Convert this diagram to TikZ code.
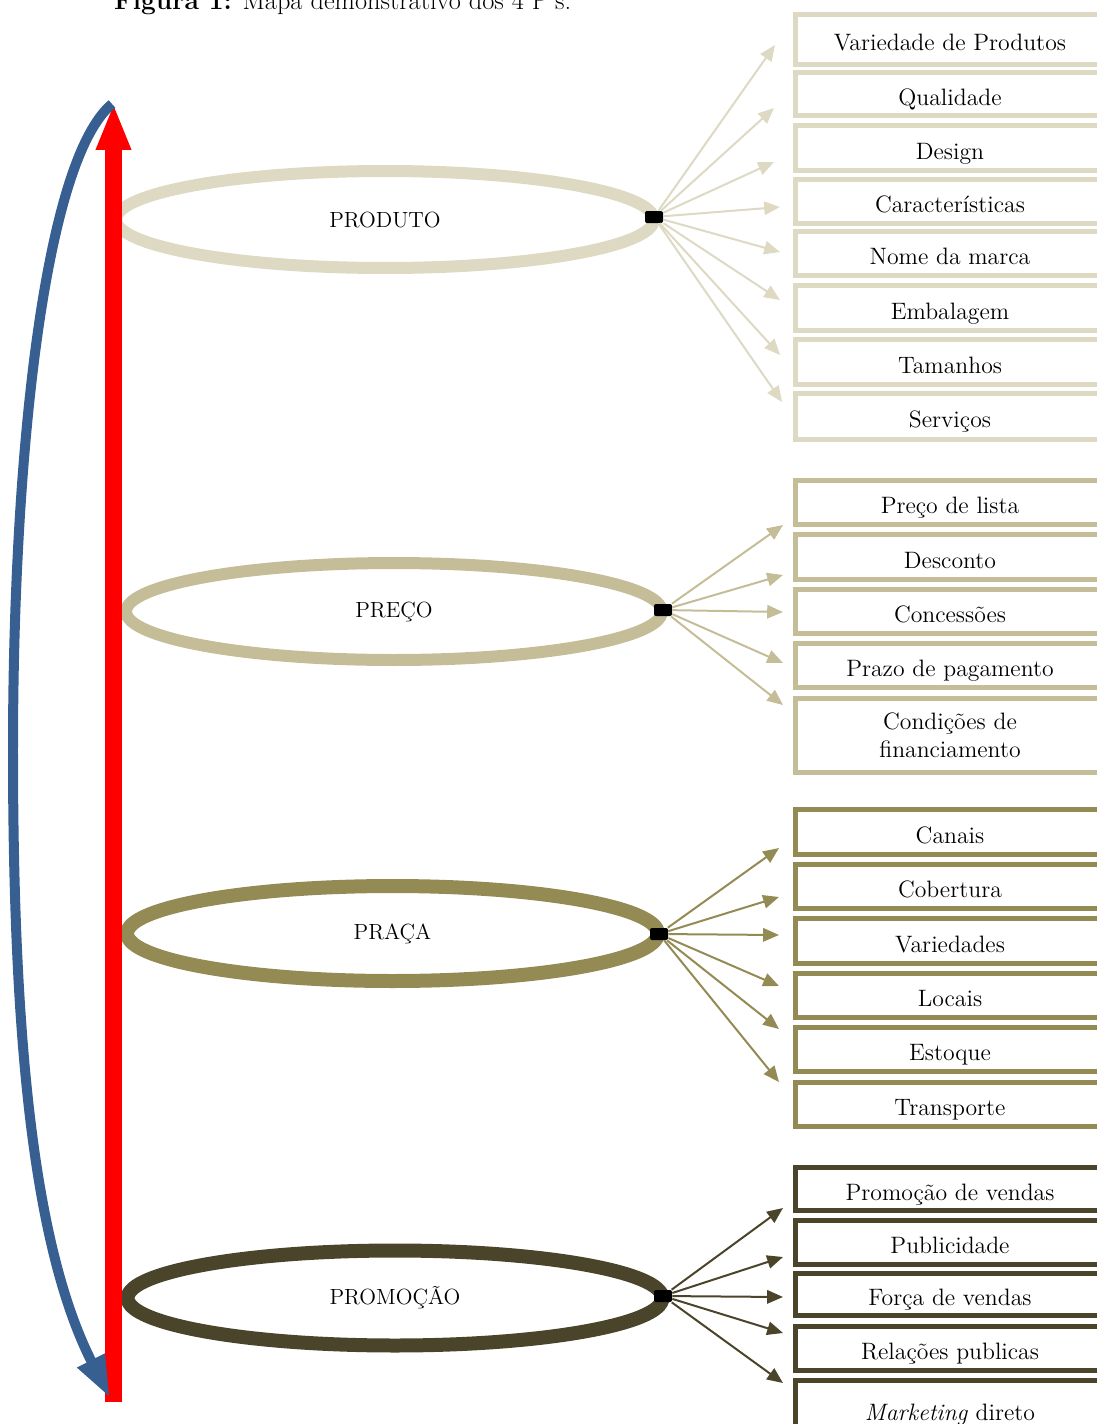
\documentclass[tikz,border=0pt]{standalone}
\usepackage{tikz}
\usetikzlibrary{shapes.geometric, arrows.meta, positioning}
\definecolor{prodc}{HTML}{DDD9C3}
\definecolor{precoc}{HTML}{C4BD97}
\definecolor{pracac}{HTML}{948A54}
\definecolor{promoc}{HTML}{4A452A}
\definecolor{curvec}{HTML}{375F92}
\begin{document}
\begin{tikzpicture}[x=0.02cm, y=-0.02cm,
    ring/.style={ellipse, draw=#1, line width=0.24cm, font=\fontsize{12.5}{14}\selectfont},
    handle/.style={fill=black, rounded corners=0.04cm, minimum width=0.36cm, minimum height=0.24cm, inner sep=0pt},
    itembox/.style={draw=#1, line width=0.1cm, minimum width=6.2cm, inner sep=0pt, font=\fontsize{13.5}{16}\selectfont},
    oneline/.style={text height=13pt, text depth=0pt},
    twoline/.style={align=center},
    link/.style={draw=#1, line width=0.04cm, -{Triangle[length=9pt, width=7.6pt]}},
    redarrow/.style={draw=red, line width=0.34cm, -{Triangle[length=26.7pt, width=18.2pt]}},
    backarrow/.style={draw=curvec, line width=0.2cm, -{Triangle[length=24pt, width=16pt]}}]
    \useasboundingbox (0,0) rectangle (1097,1424);

    \node[anchor=base west, font=\fontsize{15}{18}\selectfont] (caption) at (108,9) {\textbf{Figura 1:} Mapa demonstrativo dos 4 P's.};

    % PRODUTO
    \node[ring=prodc, minimum width=10.76cm, minimum height=1.94cm] (produto) at (385,219.5) {PRODUTO};
    \node[handle] (hprod) at (654,217) {};
    \foreach \txt/\ya/\yb/\tx/\ty/\sty [count=\i] in {
        Variedade de Produtos/12/67/775/45/oneline,
        Qualidade/70/118/774/108/oneline,
        Design/123/173/774/162/oneline,
        Características/177/226/780/207/oneline,
        Nome da marca/229/278/780/252/oneline,
        Embalagem/283/333/780/300/oneline,
        Tamanhos/337/387/780/355/oneline,
        Serviços/391/442/782/402/oneline}
    {
        \node[itembox=prodc, \sty, minimum height={(\yb-\ya-5)*0.02cm}] (prod\i) at (950,{(\ya+\yb)/2}) {\txt};
        \coordinate (tprod\i) at (\tx,\ty);
        \draw[link=prodc] (hprod) -- (tprod\i);
    }

    % PRECO
    \node[ring=precoc, minimum width=10.72cm, minimum height=1.94cm] (preco) at (394,611.5) {PREÇO};
    \node[handle] (hpreco) at (663,610) {};
    \foreach \txt/\ya/\yb/\tx/\ty/\sty [count=\i] in {
        Preço de lista/478/527/783/525/oneline,
        Desconto/532/582/783/575/oneline,
        Concessões/587/636/783/612/oneline,
        Prazo de pagamento/641/690/783/663/oneline,
        {Condições de\\financiamento}/696/775/783/705/twoline}
    {
        \node[itembox=precoc, \sty, minimum height={(\yb-\ya-5)*0.02cm}] (preco\i) at (950,{(\ya+\yb)/2}) {\txt};
        \coordinate (tpreco\i) at (\tx,\ty);
        \draw[link=precoc] (hpreco) -- (tpreco\i);
    }

    % PRACA
    \node[ring=pracac, line width=0.28cm, minimum width=10.62cm, minimum height=1.9cm] (praca) at (392.5,933.5) {PRAÇA};
    \node[handle] (hpraca) at (659,934) {};
    \foreach \txt/\ya/\yb/\tx/\ty/\sty [count=\i] in {
        Canais/807/857/779/848/oneline,
        Cobertura/862/911/779/897/oneline,
        Variedades/916/966/779/935/oneline,
        Locais/971/1020/779/986/oneline,
        Estoque/1025/1074/779/1029/oneline,
        Transporte/1080/1129/779/1082/oneline}
    {
        \node[itembox=pracac, \sty, minimum height={(\yb-\ya-5)*0.02cm}] (praca\i) at (950,{(\ya+\yb)/2}) {\txt};
        \coordinate (tpraca\i) at (\tx,\ty);
        \draw[link=pracac] (hpraca) -- (tpraca\i);
    }

    % PROMOCAO
    \node[ring=promoc, line width=0.28cm, minimum width=10.7cm, minimum height=1.9cm] (promocao) at (395,1298) {PROMOÇÃO};
    \node[handle] (hpromo) at (663,1296) {};
    \foreach \txt/\ya/\yb/\tx/\ty/\sty [count=\i] in {
        Promoção de vendas/1165/1213/783/1208/oneline,
        Publicidade/1218/1267/783/1257/oneline,
        Força de vendas/1271/1318/783/1297/oneline,
        Relações publicas/1324/1373/783/1333/oneline,
        \textit{Marketing} direto/1378/1440/783/1383/oneline}
    {
        \node[itembox=promoc, \sty, minimum height={(\yb-\ya-5)*0.02cm}] (promo\i) at (950,{(\ya+\yb)/2}) {\txt};
        \coordinate (tpromo\i) at (\tx,\ty);
        \draw[link=promoc] (hpromo) -- (tpromo\i);
    }

    % cycle arrows
    \coordinate (rbot) at (113.5,1402);
    \coordinate (rtop) at (113.5,103);
    \draw[redarrow] (rbot) -- (rtop);
    \coordinate (btop) at (112,104);
    \coordinate (bbot) at (110,1398);
    \draw[backarrow] (btop) .. controls (45,160) and (13,450) .. (13,750)
        .. controls (13,1050) and (35,1250) .. (bbot);
\end{tikzpicture}
\end{document}
